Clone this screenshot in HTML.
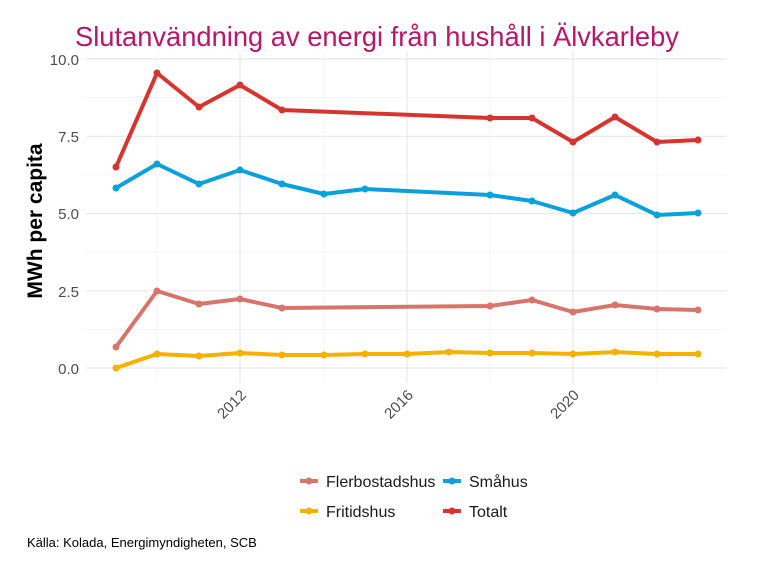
<!DOCTYPE html>
<html><head><meta charset="utf-8"><style>
body{margin:0;background:#fff;}
svg{display:block;font-family:"Liberation Sans",sans-serif;}
</style></head><body>
<svg width="768" height="576" viewBox="0 0 768 576" xmlns="http://www.w3.org/2000/svg">
<rect width="768" height="576" fill="#fff"/>
<text x="75" y="46" font-size="27.3" fill="#b5176a">Slutanvändning av energi från hushåll i Älvkarleby</text>
<g stroke="#f2f2f2" stroke-width="0.8">
<line x1="86" x2="727" y1="329.4" y2="329.4"/><line x1="86" x2="727" y1="252.1" y2="252.1"/>
<line x1="86" x2="727" y1="174.9" y2="174.9"/><line x1="86" x2="727" y1="97.6" y2="97.6"/>
<line x1="157" x2="157" y1="52" y2="383"/><line x1="324" x2="324" y1="52" y2="383"/>
<line x1="490" x2="490" y1="52" y2="383"/><line x1="657" x2="657" y1="52" y2="383"/>
</g>
<g stroke="#e8e8e8" stroke-width="1.2">
<line x1="86" x2="727" y1="368" y2="368"/><line x1="86" x2="727" y1="290.8" y2="290.8"/>
<line x1="86" x2="727" y1="213.5" y2="213.5"/><line x1="86" x2="727" y1="136.3" y2="136.3"/>
<line x1="86" x2="727" y1="59" y2="59"/>
<line x1="240" x2="240" y1="52" y2="383"/><line x1="407" x2="407" y1="52" y2="383"/>
<line x1="573" x2="573" y1="52" y2="383"/>
</g>
<g font-size="15" fill="#4d4d4d" text-anchor="end">
<text x="79" y="374">0.0</text><text x="79" y="297">2.5</text><text x="79" y="219">5.0</text>
<text x="79" y="142">7.5</text><text x="79" y="65">10.0</text>
</g>
<g font-size="15" fill="#4d4d4d" text-anchor="end">
<text transform="translate(247,396) rotate(-45)">2012</text>
<text transform="translate(414,396) rotate(-45)">2016</text>
<text transform="translate(580,396) rotate(-45)">2020</text>
</g>
<text transform="translate(42,221) rotate(-90)" font-size="21" font-weight="bold" text-anchor="middle" fill="#000">MWh per capita</text>
<g fill="none" stroke-width="4" stroke-linejoin="round">
<polyline stroke="#d6342e" points="116,167 157,73 199,107 240,85 282,110 490,118 532,118 573,142 615,117 657,142 698,140"/>
<polyline stroke="#0aa0dc" points="116,188 157,164 199,184 240,170 282,184 324,194 365,189 490,195 532,201 573,213 615,195 657,215 698,213"/>
<polyline stroke="#d7756a" points="116,347 157,291 199,304 240,299 282,308 490,306 532,300 573,312 615,305 657,309 698,310"/>
<polyline stroke="#f5b000" points="116,368 157,354 199,356 240,353 282,355 324,355 365,354 407,354 449,352 490,353 532,353 573,354 615,352 657,354 698,354"/>
</g>
<g fill="#d6342e"><circle cx="116" cy="167" r="3.5"/><circle cx="157" cy="73" r="3.5"/><circle cx="199" cy="107" r="3.5"/><circle cx="240" cy="85" r="3.5"/><circle cx="282" cy="110" r="3.5"/><circle cx="490" cy="118" r="3.5"/><circle cx="532" cy="118" r="3.5"/><circle cx="573" cy="142" r="3.5"/><circle cx="615" cy="117" r="3.5"/><circle cx="657" cy="142" r="3.5"/><circle cx="698" cy="140" r="3.5"/></g>
<g fill="#0aa0dc"><circle cx="116" cy="188" r="3.5"/><circle cx="157" cy="164" r="3.5"/><circle cx="199" cy="184" r="3.5"/><circle cx="240" cy="170" r="3.5"/><circle cx="282" cy="184" r="3.5"/><circle cx="324" cy="194" r="3.5"/><circle cx="365" cy="189" r="3.5"/><circle cx="490" cy="195" r="3.5"/><circle cx="532" cy="201" r="3.5"/><circle cx="573" cy="213" r="3.5"/><circle cx="615" cy="195" r="3.5"/><circle cx="657" cy="215" r="3.5"/><circle cx="698" cy="213" r="3.5"/></g>
<g fill="#d7756a"><circle cx="116" cy="347" r="3.5"/><circle cx="157" cy="291" r="3.5"/><circle cx="199" cy="304" r="3.5"/><circle cx="240" cy="299" r="3.5"/><circle cx="282" cy="308" r="3.5"/><circle cx="490" cy="306" r="3.5"/><circle cx="532" cy="300" r="3.5"/><circle cx="573" cy="312" r="3.5"/><circle cx="615" cy="305" r="3.5"/><circle cx="657" cy="309" r="3.5"/><circle cx="698" cy="310" r="3.5"/></g>
<g fill="#f5b000"><circle cx="116" cy="368" r="3.5"/><circle cx="157" cy="354" r="3.5"/><circle cx="199" cy="356" r="3.5"/><circle cx="240" cy="353" r="3.5"/><circle cx="282" cy="355" r="3.5"/><circle cx="324" cy="355" r="3.5"/><circle cx="365" cy="354" r="3.5"/><circle cx="407" cy="354" r="3.5"/><circle cx="449" cy="352" r="3.5"/><circle cx="490" cy="353" r="3.5"/><circle cx="532" cy="353" r="3.5"/><circle cx="573" cy="354" r="3.5"/><circle cx="615" cy="352" r="3.5"/><circle cx="657" cy="354" r="3.5"/><circle cx="698" cy="354" r="3.5"/></g>
<g stroke-width="4">
<line x1="300" x2="318" y1="481" y2="481" stroke="#d7756a"/><circle cx="309" cy="481" r="3.5" fill="#d7756a"/>
<line x1="443" x2="461" y1="481" y2="481" stroke="#0aa0dc"/><circle cx="452" cy="481" r="3.5" fill="#0aa0dc"/>
<line x1="300" x2="318" y1="511" y2="511" stroke="#f5b000"/><circle cx="309" cy="511" r="3.5" fill="#f5b000"/>
<line x1="443" x2="461" y1="511" y2="511" stroke="#d6342e"/><circle cx="452" cy="511" r="3.5" fill="#d6342e"/>
</g>
<g font-size="16" fill="#1a1a1a">
<text x="326" y="487">Flerbostadshus</text><text x="469" y="487">Småhus</text>
<text x="326" y="517">Fritidshus</text><text x="469" y="517">Totalt</text>
</g>
<text x="27" y="547" font-size="13" fill="#000">Källa: Kolada, Energimyndigheten, SCB</text>
</svg>
</body></html>
